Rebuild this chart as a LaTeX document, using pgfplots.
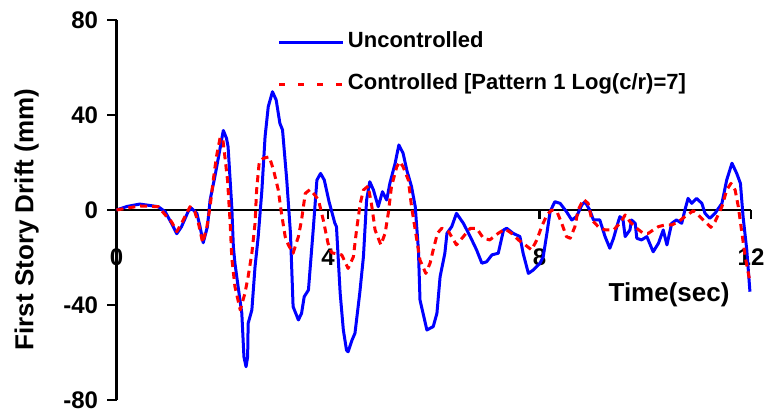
\documentclass[border=0pt]{standalone}
\usepackage{pgfplots}
\pgfplotsset{compat=1.18}
\usepackage{fontspec}
\setmainfont{Liberation Sans}
\pgfplotstableread{
t v
0 0
0.20 1.5
0.44 2.5
0.79 1.4
0.92 -0.7
1.04 -5.6
1.14 -10
1.23 -7
1.36 -0.4
1.42 0.7
1.52 -1.4
1.58 -7
1.64 -13.8
1.72 -7
1.77 4.2
1.86 14
1.93 22.4
2.02 33.5
2.08 30.2
2.11 26.7
2.18 1.4
2.21 -15.4
2.24 -22.4
2.30 -32.3
2.37 -43.5
2.41 -61.8
2.45 -66
2.48 -61.8
2.49 -47.7
2.56 -42.1
2.62 -23.9
2.68 -11.2
2.75 8.4
2.81 30.9
2.87 43.5
2.95 49.8
3.02 46.3
3.09 36.5
3.14 33.7
3.22 12.6
3.29 -9.8
3.34 -40.7
3.44 -46.3
3.50 -43.5
3.55 -36.5
3.63 -33.7
3.67 -22.4
3.72 -8.4
3.79 12.6
3.86 15.4
3.93 12.6
4.02 3.5
4.13 -5.6
4.16 -7
4.23 -35
4.29 -50.5
4.35 -59
4.38 -59.7
4.45 -55
4.51 -51.9
4.60 -35.1
4.67 -19.7
4.73 4.2
4.79 11.9
4.86 8.4
4.95 1.4
5.03 7.7
5.11 4.2
5.17 11.2
5.27 19.7
5.34 27.4
5.42 23.9
5.49 16.8
5.58 9.8
5.65 1.4
5.71 -16.8
5.74 -37.9
5.87 -50.5
5.99 -49.1
6.06 -43.5
6.12 -28.1
6.21 -18.2
6.25 -9.8
6.34 -7
6.43 -1.4
6.56 -5.6
6.69 -11.2
6.81 -16.8
6.91 -22.4
7.00 -21.8
7.10 -18.9
7.22 -18.2
7.32 -8.4
7.38 -7.7
7.50 -9.8
7.63 -11.2
7.69 -18.2
7.79 -26.7
7.88 -25.3
8.01 -22.4
8.07 -19.7
8.14 -9.8
8.20 -0.7
8.29 3.5
8.39 2.8
8.51 -0.7
8.61 -4.2
8.70 -2.8
8.80 2.1
8.86 3.5
8.95 0
9.02 -4.2
9.14 -4.2
9.24 -11.2
9.33 -16.1
9.40 -11.9
9.49 -4.9
9.52 -2.8
9.58 -4.2
9.62 -11.2
9.71 -8.4
9.74 -4.2
9.81 -5.6
9.84 -11.9
9.93 -12.6
10.03 -11.2
10.15 -17.6
10.25 -14.0
10.34 -8.4
10.41 -14.7
10.50 -5.6
10.59 -4.2
10.69 -5.6
10.75 0
10.81 4.9
10.88 2.8
10.97 4.9
11.07 2.8
11.13 -1.4
11.22 -3.5
11.32 -1.4
11.45 2.8
11.54 12.6
11.64 19.7
11.73 15.4
11.80 11.2
11.85 -2.8
11.92 -16.8
11.98 -34.4
}\uncontrolled
\pgfplotstableread{
t v
0 0
0.44 1.7
0.79 1.4
0.95 -2.8
1.04 -4.9
1.14 -9.1
1.23 -5.6
1.39 1.4
1.48 -0.7
1.55 -5.6
1.63 -13.8
1.71 -7
1.77 1.4
1.83 12.6
1.89 22.4
1.96 30.5
2.01 30
2.05 22.4
2.10 12.6
2.15 -5.6
2.18 -20
2.24 -32.3
2.34 -42.1
2.43 -35
2.49 -28
2.56 -18.2
2.62 -5.6
2.65 8.4
2.70 20.3
2.78 21.8
2.89 22.4
2.97 16.8
3.06 8.4
3.12 -1.4
3.19 -11.2
3.25 -14.7
3.34 -18.2
3.44 -11.2
3.50 -4.2
3.57 7
3.66 8.6
3.75 6.3
3.82 4.2
3.91 -4.2
4.00 -14
4.07 -18
4.26 -18.9
4.38 -24.6
4.48 -19.7
4.54 -8.4
4.61 2.8
4.67 8.4
4.76 10.1
4.83 1.4
4.89 -8.4
5.00 -14.7
5.08 -9.8
5.14 -1.4
5.20 9.8
5.30 18.2
5.36 20.3
5.42 18.2
5.52 12.6
5.58 1.4
5.65 -8.4
5.74 -21.1
5.85 -26.7
5.93 -22.4
5.99 -16.8
6.07 -9.8
6.15 -7.7
6.28 -9.1
6.43 -14.7
6.56 -11.2
6.69 -7.7
6.81 -7.7
6.94 -11.9
7.06 -12.6
7.22 -9.8
7.35 -8
7.47 -9.8
7.60 -12.6
7.73 -14.7
7.85 -16.8
7.95 -12.6
8.04 -7
8.14 -2.1
8.23 0
8.33 -0.7
8.42 -5.6
8.51 -11.2
8.58 -11.9
8.67 -7
8.73 0
8.83 4.5
8.92 2.8
8.99 -4.2
9.11 -7
9.24 -8.4
9.40 -8.4
9.52 -5.6
9.62 -2.1
9.71 -4.9
9.84 -7.7
9.96 -9.8
10.06 -9.8
10.15 -8.4
10.25 -7
10.37 -6.3
10.50 -6.3
10.63 -4.9
10.75 -2.8
10.91 -0.3
11.00 -2.1
11.13 -4.9
11.24 -7.3
11.32 -4.9
11.45 1.4
11.54 8.4
11.62 11.2
11.70 8.4
11.76 1.4
11.82 -8.4
11.89 -19.7
11.98 -30.2
}\controlled
\begin{document}
\begin{tikzpicture}
\path[use as bounding box] (0,0) rectangle (764bp,418bp);
\begin{axis}[
  at={(116.5bp,18bp)}, anchor=south west,
  scale only axis, width=634.5bp, height=380bp,
  xmin=0, xmax=12, ymin=-80, ymax=80,
  axis x line*=middle, axis y line*=left,
  hide obscured x ticks=false,
  axis line style={line width=2.5bp, black},
  xtick={0,4,8,12}, xticklabels={0,4,8,12},
  ytick={-80,-40,0,40,80}, yticklabels={-80,-40,0,40,80},
  tick align=outside,
  major tick length=9bp,
  tick style={line width=2.5bp, black},
  ticklabel style={font=\fontsize{24bp}{28bp}\selectfont\bfseries},
  xticklabel style={yshift=-26bp},
  yticklabel style={xshift=-6bp},
  xlabel={Time(sec)},
  every axis x label/.style={at={(axis cs:10.45,-38.7)}, anchor=base, font=\fontsize{26bp}{30bp}\selectfont\bfseries},
  ylabel={First Story Drift (mm)},
  every axis y label/.style={at={(axis cs:-1.57,-4)}, rotate=90, anchor=base, font=\fontsize{26bp}{30bp}\selectfont\bfseries},
  legend style={at={(axis cs:3.05,76.2)}, anchor=north west, draw=none, fill=none,
    inner sep=0pt, row sep=15.5bp, column sep=0bp,
    font=\fontsize{22bp}{26bp}\selectfont\bfseries,
    nodes={text height=15.5bp, text depth=5bp, inner sep=3bp}},
  legend cell align=left,
  legend image code/.code={\draw[#1] (0bp,0bp) -- (64bp,0bp);},
  clip=false,
]
\addplot[blue, line width=3bp, line join=round, forget plot] table[x=t,y=v] {\uncontrolled};
\addplot[red, line width=3bp, dash pattern=on 7bp off 5bp, line join=round, forget plot] table[x=t,y=v] {\controlled};
\addlegendimage{blue, line width=3bp}
\addlegendentry{Uncontrolled}
\addlegendimage{red, line width=3bp, dash pattern=on 6bp off 13bp}
\addlegendentry{Controlled [Pattern 1 Log(c/r)=7]}
\end{axis}
\end{tikzpicture}
\end{document}
